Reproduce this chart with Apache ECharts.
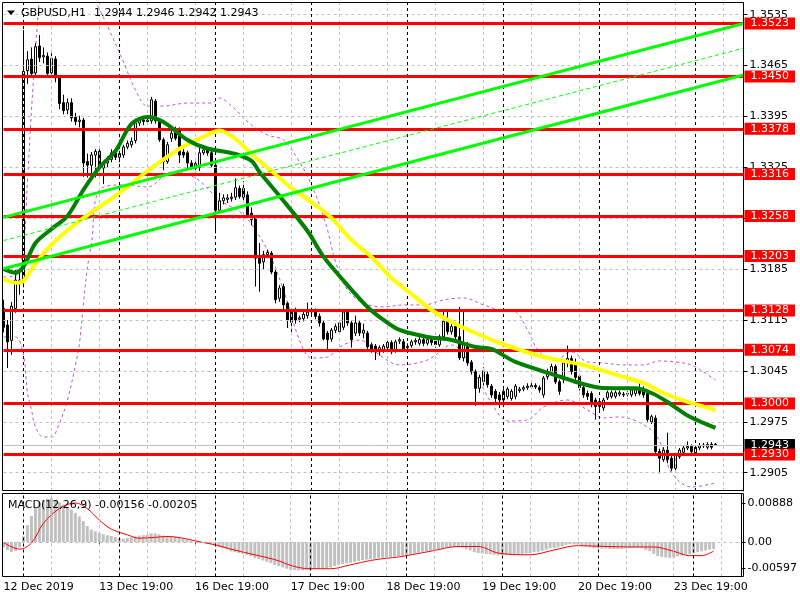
<!DOCTYPE html>
<html><head><meta charset="utf-8">
<script src="https://cdn.jsdelivr.net/npm/echarts@6/dist/echarts.min.js"></script>
<style>html,body{margin:0;padding:0;background:#fff}#c{width:800px;height:600px}</style>
</head><body><div id="c"></div><script>
// ---- data ----
const opens = [1.3131,1.3108,1.3087,1.3131,1.3170,1.3168,1.3458,1.3474,1.3455,1.3492,
1.3477,1.3478,1.3455,1.3474,1.3449,1.3414,1.3404,1.3414,1.3394,1.3388,
1.3390,1.3333,1.3328,1.3342,1.3347,1.3324,1.3331,1.3336,1.3345,1.3339,
1.3342,1.3353,1.3356,1.3362,1.3386,1.3390,1.3388,1.3389,1.3416,1.3389,
1.3363,1.3333,1.3365,1.3377,1.3377,1.3346,1.3345,1.3331,1.3330,1.3325,
1.3345,1.3349,1.3345,1.3328,1.3266,1.3279,1.3281,1.3282,1.3284,1.3296,
1.3296,1.3287,1.3262,1.3255,1.3202,1.3195,1.3205,1.3207,1.3181,1.3145,
1.3161,1.3138,1.3128,1.3128,1.3116,1.3117,1.3121,1.3126,1.3128,1.3120,
1.3111,1.3097,1.3089,1.3101,1.3099,1.3105,1.3126,1.3111,1.3097,1.3111,
1.3097,1.3097,1.3081,1.3079,1.3071,1.3074,1.3077,1.3084,1.3074,1.3086,
1.3085,1.3077,1.3080,1.3085,1.3083,1.3088,1.3083,1.3088,1.3086,1.3081,
1.3092,1.3114,1.3099,1.3106,1.3092,1.3063,1.3081,1.3057,1.3044,1.3021,
1.3030,1.3040,1.3024,1.3017,1.3012,1.3005,1.3010,1.3007,1.3010,1.3018,
1.3020,1.3022,1.3023,1.3025,1.3022,1.3012,1.3037,1.3044,1.3051,1.3030,
1.3033,1.3056,1.3062,1.3056,1.3038,1.3022,1.3014,1.3014,1.3005,1.2996,
1.2994,1.3008,1.3010,1.3010,1.3013,1.3013,1.3013,1.3012,1.3014,1.3022,
1.3020,1.3014,1.2975,1.2980,1.2934,1.2923,1.2936,1.2925,1.2911,1.2927,
1.2933,1.2939,1.2941,1.2932,1.2939,1.2942,1.2940,1.2944,1.2944];
const closes = [1.3105,1.3085,1.3134,1.3170,1.3166,1.3457,1.3473,1.3454,1.3491,1.3476,
1.3479,1.3454,1.3475,1.3448,1.3413,1.3403,1.3414,1.3393,1.3388,1.3390,
1.3331,1.3328,1.3342,1.3347,1.3326,1.3331,1.3336,1.3345,1.3339,1.3344,
1.3353,1.3358,1.3361,1.3386,1.3390,1.3388,1.3390,1.3418,1.3389,1.3363,
1.3333,1.3356,1.3372,1.3365,1.3342,1.3342,1.3331,1.3326,1.3324,1.3345,
1.3349,1.3345,1.3328,1.3266,1.3279,1.3283,1.3283,1.3284,1.3297,1.3285,
1.3284,1.3259,1.3253,1.3200,1.3193,1.3205,1.3208,1.3181,1.3143,1.3159,
1.3136,1.3115,1.3112,1.3115,1.3118,1.3123,1.3126,1.3128,1.3120,1.3111,
1.3089,1.3088,1.3101,1.3106,1.3111,1.3126,1.3111,1.3088,1.3111,1.3097,
1.3101,1.3078,1.3074,1.3071,1.3077,1.3079,1.3084,1.3071,1.3085,1.3088,
1.3074,1.3079,1.3085,1.3087,1.3088,1.3083,1.3088,1.3084,1.3081,1.3092,
1.3113,1.3099,1.3106,1.3092,1.3063,1.3082,1.3056,1.3044,1.3021,1.3036,
1.3045,1.3026,1.3012,1.3007,1.3005,1.3017,1.3020,1.3017,1.3024,1.3020,
1.3022,1.3024,1.3025,1.3023,1.3019,1.3035,1.3044,1.3051,1.3030,1.3017,
1.3056,1.3062,1.3044,1.3036,1.3022,1.3012,1.3010,1.3000,1.2996,1.3003,
1.3005,1.3015,1.3015,1.3015,1.3015,1.3012,1.3014,1.3019,1.3019,1.3014,
1.3012,1.2978,1.2982,1.2934,1.2925,1.2936,1.2923,1.2911,1.2929,1.2936,
1.2939,1.2941,1.2934,1.2940,1.2942,1.2943,1.2944,1.2940,1.2943];
const lows = [1.3098,1.3049,1.3067,1.3125,1.3150,1.3160,1.3440,1.3449,1.3450,1.3470,
1.3468,1.3448,1.3450,1.3442,1.3405,1.3398,1.3398,1.3388,1.3383,1.3380,
1.3312,1.3311,1.3315,1.3311,1.3315,1.3302,1.3325,1.3332,1.3335,1.3332,
1.3338,1.3350,1.3352,1.3358,1.3382,1.3383,1.3384,1.3385,1.3385,1.3360,
1.3321,1.3330,1.3360,1.3362,1.3331,1.3338,1.3324,1.3322,1.3320,1.3320,
1.3342,1.3341,1.3325,1.3234,1.3262,1.3274,1.3276,1.3278,1.3280,1.3282,
1.3280,1.3255,1.3245,1.3161,1.3154,1.3184,1.3200,1.3178,1.3138,1.3140,
1.3130,1.3104,1.3097,1.3110,1.3112,1.3113,1.3117,1.3122,1.3116,1.3106,
1.3087,1.3071,1.3085,1.3097,1.3095,1.3101,1.3107,1.3077,1.3093,1.3093,
1.3090,1.3074,1.3070,1.3060,1.3066,1.3070,1.3073,1.3068,1.3070,1.3082,
1.3071,1.3073,1.3077,1.3081,1.3080,1.3079,1.3080,1.3080,1.3077,1.3078,
1.3089,1.3095,1.3095,1.3087,1.3060,1.3058,1.3052,1.3040,1.2997,1.3015,
1.3025,1.3022,1.3008,1.3002,1.2994,1.3002,1.3006,1.3004,1.3006,1.3015,
1.3017,1.3019,1.3020,1.3020,1.3015,1.3008,1.3033,1.3040,1.3027,1.3012,
1.3028,1.3050,1.3040,1.3032,1.3018,1.3008,1.3005,1.2995,1.2978,1.2987,
1.2990,1.3005,1.3007,1.3007,1.3010,1.3009,1.3010,1.3009,1.3010,1.3011,
1.3008,1.2975,1.2972,1.2932,1.2904,1.2920,1.2918,1.2907,1.2908,1.2924,
1.2930,1.2936,1.2931,1.2929,1.2936,1.2939,1.2937,1.2937,1.2942];
const highs = [1.3143,1.3115,1.3140,1.3184,1.3180,1.3514,1.3485,1.3490,1.3496,1.3507,
1.3490,1.3483,1.3482,1.3478,1.3452,1.3425,1.3420,1.3420,1.3400,1.3396,
1.3393,1.3344,1.3346,1.3350,1.3350,1.3334,1.3340,1.3350,1.3349,1.3348,
1.3356,1.3362,1.3366,1.3392,1.3394,1.3393,1.3395,1.3422,1.3419,1.3392,
1.3366,1.3360,1.3376,1.3381,1.3380,1.3350,1.3348,1.3335,1.3333,1.3352,
1.3353,1.3353,1.3348,1.3332,1.3290,1.3288,1.3288,1.3290,1.3310,1.3300,
1.3306,1.3292,1.3270,1.3258,1.3221,1.3210,1.3212,1.3210,1.3184,1.3163,
1.3165,1.3140,1.3131,1.3132,1.3121,1.3126,1.3139,1.3132,1.3131,1.3124,
1.3114,1.3100,1.3104,1.3110,1.3114,1.3130,1.3129,1.3114,1.3121,1.3115,
1.3110,1.3100,1.3084,1.3082,1.3080,1.3082,1.3087,1.3087,1.3088,1.3091,
1.3089,1.3083,1.3088,1.3090,1.3092,1.3091,1.3092,1.3091,1.3089,1.3095,
1.3129,1.3126,1.3110,1.3110,1.3133,1.3130,1.3085,1.3060,1.3047,1.3040,
1.3050,1.3044,1.3027,1.3020,1.3016,1.3020,1.3023,1.3020,1.3027,1.3023,
1.3025,1.3028,1.3029,1.3028,1.3025,1.3038,1.3048,1.3055,1.3054,1.3033,
1.3060,1.3080,1.3066,1.3062,1.3041,1.3025,1.3018,1.3017,1.3008,1.3006,
1.3008,1.3018,1.3018,1.3018,1.3018,1.3016,1.3017,1.3022,1.3023,1.3030,
1.3024,1.3017,1.2985,1.2984,1.2938,1.2940,1.2960,1.2928,1.2932,1.2939,
1.2942,1.2948,1.2944,1.2943,1.2946,1.2946,1.2947,1.2947,1.2946];

const macdHist = [-0.0012,-0.0018,-0.0022,-0.0020,-0.0012,0.0013,0.0039,0.0060,0.0078,0.0090,
0.0097,0.0100,0.0101,0.0097,0.0091,0.0086,0.0081,0.0074,0.0067,0.0059,
0.0048,0.0037,0.0029,0.0025,0.0021,0.0018,0.0016,0.0014,0.0012,0.0009,
0.0008,0.0009,0.0011,0.0013,0.0015,0.0016,0.0017,0.0020,0.0020,0.0018,
0.0015,0.0014,0.0013,0.0012,0.0009,0.0007,0.0005,0.0003,0.0001,-0.0001,
-0.0002,-0.0003,-0.0004,-0.0008,-0.0011,-0.0014,-0.0017,-0.0021,-0.0023,-0.0025,
-0.0027,-0.0029,-0.0032,-0.0036,-0.0039,-0.0042,-0.0045,-0.0048,-0.0052,-0.0055,
-0.0058,-0.0061,-0.0063,-0.0064,-0.0065,-0.0065,-0.0064,-0.0063,-0.0062,-0.0061,
-0.0061,-0.0060,-0.0058,-0.0055,-0.0052,-0.0050,-0.0048,-0.0047,-0.0045,-0.0043,
-0.0041,-0.0040,-0.0039,-0.0038,-0.0037,-0.0036,-0.0035,-0.0034,-0.0033,-0.0032,
-0.0031,-0.0030,-0.0028,-0.0026,-0.0024,-0.0022,-0.0021,-0.0020,-0.0018,-0.0016,
-0.0013,-0.0012,-0.0011,-0.0011,-0.0012,-0.0013,-0.0016,-0.0019,-0.0023,-0.0025,
-0.0026,-0.0027,-0.0028,-0.0029,-0.0030,-0.0030,-0.0029,-0.0029,-0.0028,-0.0028,
-0.0027,-0.0026,-0.0025,-0.0023,-0.0022,-0.0020,-0.0017,-0.0014,-0.0013,-0.0012,
-0.0009,-0.0006,-0.0005,-0.0005,-0.0006,-0.0008,-0.0010,-0.0012,-0.0014,-0.0015,
-0.0015,-0.0015,-0.0016,-0.0016,-0.0016,-0.0016,-0.0015,-0.0014,-0.0013,-0.0013,
-0.0014,-0.0018,-0.0021,-0.0027,-0.0032,-0.0034,-0.0035,-0.0036,-0.0035,-0.0033,
-0.0031,-0.0029,-0.0027,-0.0025,-0.0023,-0.0021,-0.0019,-0.0017,-0.00156];

const signalIdx = [0,4,7,10,14,18,21,24,27,31,34,38,41,45,49,53,57,62,68,73,77,82,87,92,96,99,107,114,119,124,132,138,144,151,158,163,168,172,175,178];
const signalVal = [-0.0001,-0.0016,-0.0002,0.0043,0.0077,0.0090,0.0077,0.0051,0.0030,0.0017,0.0009,0.0011,0.0013,0.0009,0.0001,-0.0006,-0.0016,-0.0027,-0.0040,-0.0056,-0.0061,-0.0061,-0.0052,-0.0042,-0.0037,-0.0034,-0.0021,-0.0010,-0.0010,-0.0025,-0.0029,-0.0018,-0.0008,-0.0010,-0.0011,-0.0011,-0.0021,-0.0031,-0.0031,-0.00205];

const maGreenIdx = [0,3,5,8,12,16,20,24,28,32,36,40,46,51,58,62,64,69,76,80,84,91,95,99,106,112,118,122,128,139,144,150,158,162,166,171,178];
const maGreenVal = [1.31852,1.31801,1.31884,1.32210,1.32402,1.32581,1.32942,1.33251,1.33475,1.33847,1.33943,1.33874,1.33627,1.33510,1.33434,1.33338,1.33186,1.32856,1.32375,1.32021,1.31756,1.31329,1.31151,1.31013,1.30917,1.30876,1.30779,1.30752,1.30573,1.30373,1.30284,1.30215,1.30211,1.30146,1.30023,1.29837,1.29665];
const maYellowIdx = [0,3,5,8,12,16,20,28,36,44,50,54,58,62,67,72,77,82,87,92,97,102,107,112,118,124,135,145,155,160,165,171,178];
const maYellowVal = [1.31715,1.31662,1.31690,1.31928,1.32190,1.32386,1.32556,1.32858,1.33200,1.33507,1.33673,1.33757,1.33640,1.33434,1.33200,1.32966,1.32774,1.32554,1.32251,1.32017,1.31728,1.31508,1.31288,1.31123,1.30972,1.30834,1.30642,1.30532,1.30367,1.30284,1.30146,1.30023,1.29913];

const bandUpIdx = [0,3,5,6,7,8,9,10,14,18,22,24,27,30,33,36,40,46,52,54,57,62,66,70,74,77,79,81,83,86,90,95,100,105,110,115,120,124,128,131,134,138,142,146,150,155,160,164,168,172,175,178];
const bandUpVal = [1.31742,1.31756,1.32182,1.33076,1.34039,1.34864,1.35552,1.35896,1.3615,1.3625,1.35621,1.35428,1.35071,1.34699,1.34314,1.34094,1.34094,1.34135,1.34135,1.34204,1.34094,1.33833,1.33695,1.33627,1.33324,1.33008,1.32733,1.32389,1.31949,1.31563,1.31385,1.31330,1.31357,1.31357,1.31426,1.31454,1.31357,1.31288,1.31261,1.31013,1.30711,1.30601,1.30711,1.30573,1.30559,1.30532,1.30532,1.30587,1.30573,1.30532,1.30435,1.30325];
const bandLoIdx = [0,3,5,6,7,8,10,12,14,16,18,19,20,21,22,24,30,36,42,48,54,60,66,70,74,77,81,84,89,94,99,106,112,118,122,126,131,135,141,146,150,154,162,165,167,172,178];
const bandLoVal = [1.30917,1.30917,1.30669,1.30146,1.29913,1.29679,1.29541,1.29541,1.29734,1.30050,1.30532,1.30834,1.31384,1.31880,1.32210,1.32939,1.33008,1.32980,1.33186,1.33104,1.32801,1.32595,1.32113,1.31563,1.30875,1.30628,1.30641,1.30779,1.30875,1.30669,1.30532,1.30601,1.30807,1.30394,1.30009,1.29761,1.29775,1.29954,1.30050,1.29913,1.29803,1.29817,1.29637,1.29362,1.29046,1.28853,1.28909];

const levels = [1.3523,1.3450,1.3378,1.3316,1.3258,1.3203,1.3128,1.3074,1.3000,1.2930];
const lastPrice = 1.2943;
const priceTicks = [1.3535,1.3465,1.3395,1.3325,1.3255,1.3185,1.3115,1.3045,1.2975,1.2905];
const macdTicks = [0.00888,0,-0.00597];
const xTickIdx = [0,24,48,72,96,120,144,168];
const xTickText = ['12 Dec 2019','13 Dec 19:00','16 Dec 19:00','17 Dec 19:00','18 Dec 19:00','19 Dec 19:00','20 Dec 19:00','23 Dec 19:00'];
const dayStartIdx = [5,29,53,77,101,125,149,173];
const trendStart = [1.32562,1.31855,1.32243]; // at first bar
const trendEnd   = [1.35228,1.34521,1.34889]; // at last slot
const trendDashed = [false,false,true];
const nSlots = 186;

// ---- build ----
const cats = [];
for (let i = 0; i < nSlots; i++) cats.push('b' + i);
const candleData = opens.map((o, i) => [o, closes[i], lows[i], highs[i]]);
const pairs = (idx, val) => idx.map((k, j) => [cats[k], val[j]]);
const FONT = 'DejaVu Sans';
const GRAYDASH = {color: '#c0c0c0', type: [3, 3], width: 1};

const vGrid = [];
for (let k = 12; k < nSlots; k += 12) vGrid.push({xAxis: cats[k], lineStyle: GRAYDASH});
const vSep = dayStartIdx.map(k => ({xAxis: cats[k], lineStyle: {color: '#000', type: [3, 3], width: 1}}));
const hGrid = priceTicks.map(v => ({yAxis: v, lineStyle: GRAYDASH}));

const chart = echarts.init(document.getElementById('c'), null, {renderer: 'canvas'});
const lineBase = {type: 'line', xAxisIndex: 0, yAxisIndex: 0, showSymbol: false, symbol: 'none', connectNulls: true, animation: false, silent: true};
const hidden = {opacity: 0, width: 0};

const levelItems = [{yAxis: lastPrice, lineStyle: {color: '#c0c0c0', width: 1, type: 'solid'},
    label: {show: true, position: 'end', distance: 1, formatter: lastPrice.toFixed(4), color: '#fff',
            backgroundColor: '#000', padding: [1, 6, 0, 6], fontSize: 11, fontFamily: FONT}}]
  .concat(levels.map(v => ({yAxis: v, lineStyle: {color: '#ff0000', width: 3, type: 'solid'},
    label: {show: true, position: 'end', distance: 1, formatter: v.toFixed(4), color: '#fff',
            backgroundColor: '#ff0000', padding: [1, 6, 0, 6], fontSize: 11, fontFamily: FONT}})));

const series = [
  // grid lines (carried by an invisible copy of the closes)
  Object.assign({}, lineBase, {data: closes, z: 1, lineStyle: hidden,
   markLine: {silent: true, symbol: 'none', animation: false, precision: 6, label: {show: false}, data: hGrid.concat(vGrid, vSep)}}),
  {type: 'line', xAxisIndex: 1, yAxisIndex: 1, data: macdHist, z: 1, silent: true, showSymbol: false, symbol: 'none',
   animation: false, lineStyle: hidden,
   markLine: {silent: true, symbol: 'none', animation: false, precision: 6, label: {show: false},
     data: vGrid.concat(vSep, [{yAxis: 0, lineStyle: GRAYDASH}])}},
  // bollinger bands
  Object.assign({}, lineBase, {data: pairs(bandUpIdx, bandUpVal), smooth: 0.35, z: 3,
    lineStyle: {color: '#ba55d3', width: 1, type: [3, 3]}}),
  Object.assign({}, lineBase, {data: pairs(bandLoIdx, bandLoVal), smooth: 0.35, z: 3,
    lineStyle: {color: '#ba55d3', width: 1, type: [3, 3]}}),
  // candles
  {type: 'candlestick', xAxisIndex: 0, yAxisIndex: 0, data: candleData, barWidth: 3, z: 4, animation: false, silent: true,
   itemStyle: {color: '#ffffff', color0: '#000000', borderColor: '#000000', borderColor0: '#000000', borderWidth: 1}},
  // moving averages
  Object.assign({}, lineBase, {data: pairs(maYellowIdx, maYellowVal), smooth: 0.3, z: 5,
    lineStyle: {color: '#ffff00', width: 4}}),
  Object.assign({}, lineBase, {data: pairs(maGreenIdx, maGreenVal), smooth: 0.3, z: 6,
    lineStyle: {color: '#008000', width: 4}}),
  // horizontal levels + price label (carried by an invisible copy of the closes)
  Object.assign({}, lineBase, {data: closes, z: 7, lineStyle: hidden,
    markLine: {silent: true, symbol: 'none', animation: false, precision: 6, data: levelItems}})
];
// trend lines
trendStart.forEach((s, j) => {
  series.push(Object.assign({}, lineBase, {data: [[cats[0], s], [cats[nSlots - 1], trendEnd[j]]], z: 8,
    lineStyle: trendDashed[j] ? {color: '#00ff00', width: 1, type: [4, 3]} : {color: '#00ff00', width: 3}}));
});
// MACD
series.push({type: 'bar', xAxisIndex: 1, yAxisIndex: 1, data: macdHist, barWidth: 3, z: 3, animation: false, silent: true,
  itemStyle: {color: '#c0c0c0'}});
series.push({type: 'line', xAxisIndex: 1, yAxisIndex: 1, data: pairs(signalIdx, signalVal), smooth: 0.35, showSymbol: false,
  symbol: 'none', z: 4, animation: false, silent: true, lineStyle: {color: '#ff0000', width: 1}});

const option = {
  animation: false,
  backgroundColor: '#ffffff',
  textStyle: {fontFamily: FONT},
  grid: [
    {left: 3.5, top: 3, width: 740, height: 488, show: false},
    {left: 3.5, top: 493.5, width: 740, height: 83, show: false}
  ],
  xAxis: [
    {type: 'category', gridIndex: 0, data: cats, boundaryGap: false,
     axisLine: {show: false}, axisTick: {show: false}, axisLabel: {show: false}, splitLine: {show: false}},
    {type: 'category', gridIndex: 1, data: cats, boundaryGap: false,
     axisLine: {show: false},
     axisTick: {show: true, length: 4, interval: (i) => xTickIdx.indexOf(i) >= 0, lineStyle: {color: '#000'}},
     axisLabel: {show: true, interval: (i) => xTickIdx.indexOf(i) >= 0, align: 'left', margin: 5,
       formatter: (v, i) => { const k = xTickIdx.indexOf(i); return k >= 0 ? xTickText[k] : ''; },
       color: '#000', fontSize: 11, fontFamily: FONT},
     splitLine: {show: false}}
  ],
  yAxis: [
    {type: 'value', gridIndex: 0, position: 'right', min: 1.28798, max: 1.35511,
     axisLine: {show: true, lineStyle: {color: '#000'}},
     axisTick: {show: true, length: 4, customValues: priceTicks, lineStyle: {color: '#000'}},
     axisLabel: {show: true, customValues: priceTicks, formatter: v => v.toFixed(4), margin: 6,
       color: '#000', fontSize: 11, fontFamily: FONT},
     splitLine: {show: false}},
    {type: 'value', gridIndex: 1, position: 'right', min: -0.00788, max: 0.01116,
     axisLine: {show: true, lineStyle: {color: '#000'}},
     axisTick: {show: true, length: 4, customValues: macdTicks, lineStyle: {color: '#000'}},
     axisLabel: {show: true, customValues: macdTicks, formatter: v => (v === 0 ? '0.00' : v.toFixed(5)), margin: 6,
       color: '#000', fontSize: 11, fontFamily: FONT},
     splitLine: {show: false}}
  ],
  graphic: [
    {type: 'rect', shape: {x: 2.5, y: 2.5, width: 741, height: 488}, style: {fill: 'none', stroke: '#000', lineWidth: 1}, z: 100, silent: true},
    {type: 'rect', shape: {x: 2.5, y: 493.5, width: 741, height: 83}, style: {fill: 'none', stroke: '#000', lineWidth: 1}, z: 100, silent: true},
    {type: 'polygon', shape: {points: [[7, 10.5], [15, 10.5], [11, 15]]}, style: {fill: '#000'}, z: 100, silent: true},
    {type: 'text', x: 21, y: 13, style: {text: 'GBPUSD,H1', fill: '#000', font: '11px "DejaVu Sans"', verticalAlign: 'middle'}, z: 100, silent: true},
    {type: 'text', x: 94, y: 13, style: {text: '1.2944 1.2946 1.2942 1.2943', fill: '#000', font: '11px "DejaVu Sans"', verticalAlign: 'middle'}, z: 100, silent: true},
    {type: 'text', x: 8, y: 505, style: {text: 'MACD(12,26,9) -0.00156 -0.00205', fill: '#000', font: '11px "DejaVu Sans"', verticalAlign: 'middle'}, z: 100, silent: true}
  ],
  series: series
};
chart.setOption(option);
</script></body></html>
